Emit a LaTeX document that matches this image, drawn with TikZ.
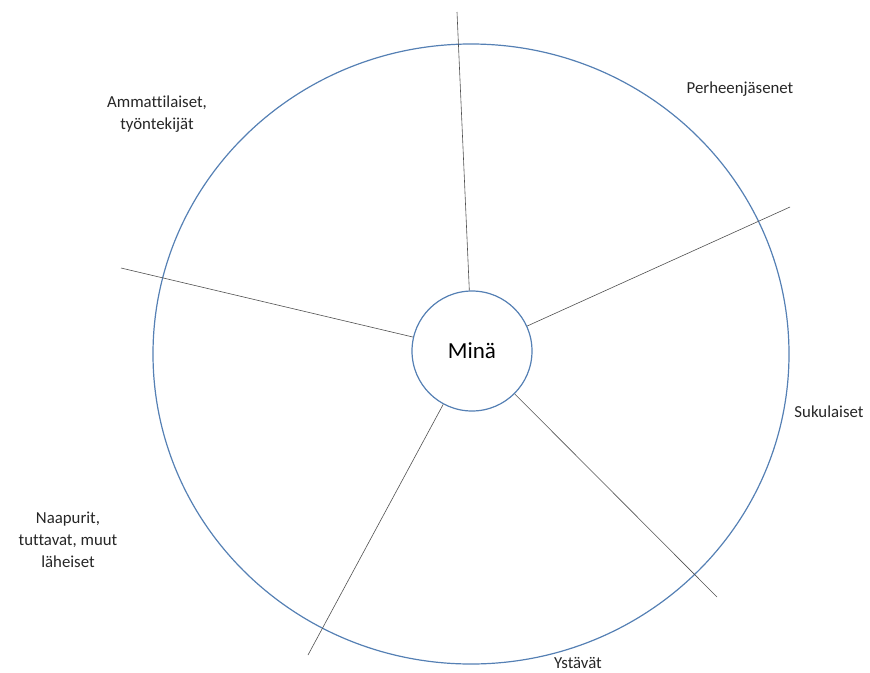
\documentclass[tikz,border=0pt]{standalone}
\usepackage{fontspec}
\setmainfont[Ligatures={NoCommon}]{Carlito}
\definecolor{ringblue}{HTML}{5580B4}
\definecolor{spoke}{HTML}{505050}
\begin{document}
\begin{tikzpicture}[x=1pt,y=-1pt,
  lbl/.style={align=center,font=\fontsize{16.8}{22}\selectfont,text=black!85,inner sep=0pt},
  ring/.style={draw=ringblue,line width=1.2pt},
  spokeline/.style={draw=spoke,line width=0.6pt}]
\useasboundingbox (0,0) rectangle (870,672);
\draw[ring] (471,354) ellipse [x radius=318, y radius=310];
\node[ring,circle,minimum size=120pt,inner sep=0pt,fill=white,font=\fontsize{23}{27}\selectfont] (me) at (472,351) {Minä};
\coordinate (e1) at (457,12);
\coordinate (e2) at (790,207);
\coordinate (e3) at (717,597);
\coordinate (e4) at (308,655);
\coordinate (e5) at (121,268);
\draw[spokeline] (me) -- (e1);
\draw[spokeline] (me) -- (e2);
\draw[spokeline] (me) -- (e3);
\draw[spokeline] (me) -- (e4);
\draw[spokeline] (me) -- (e5);
\node[lbl] (l1) at (740,89) {Perheenjäsenet};
\node[lbl] (l2) at (157,114) {Ammattilaiset,\\työntekijät};
\node[lbl] (l3) at (829,412) {Sukulaiset};
\node[lbl] (l4) at (68,540) {Naapurit,\\tuttavat, muut\\läheiset};
\node[lbl] (l5) at (578,663) {Ystävät};
\end{tikzpicture}
\end{document}
